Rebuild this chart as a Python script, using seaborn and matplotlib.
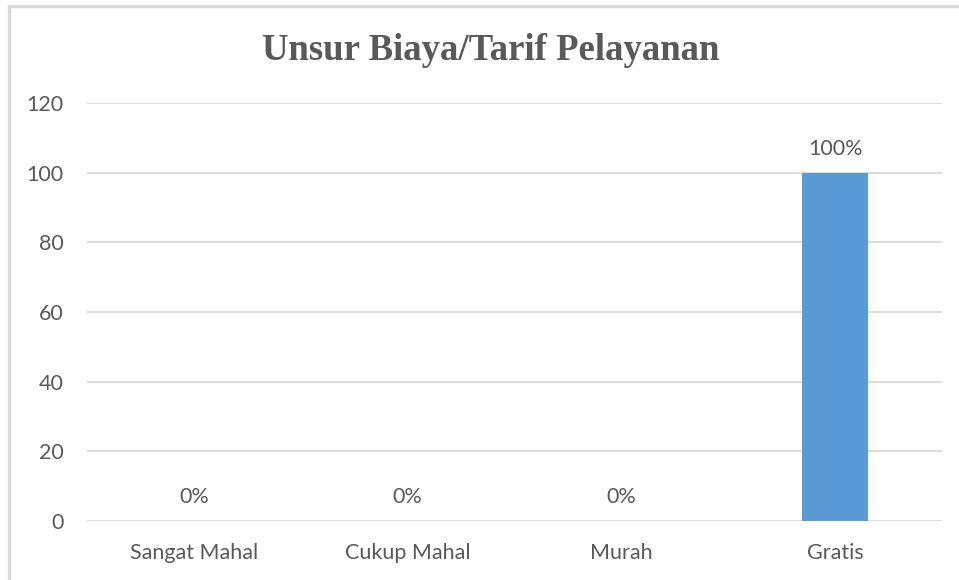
import matplotlib
matplotlib.use("Agg")
import matplotlib.pyplot as plt
import pandas as pd
import seaborn as sns
from matplotlib.lines import Line2D

# data
categories = ["Sangat Mahal", "Cukup Mahal", "Murah", "Gratis"]
values = [0, 0, 0, 100]
labels = ["0%", "0%", "0%", "100%"]
yticks = [0, 20, 40, 60, 80, 100, 120]

df = pd.DataFrame({"kategori": categories, "nilai": values})

sns.set_style("white")
plt.rcParams["font.family"] = ["Lato", "DejaVu Sans"]

fig = plt.figure(figsize=(9.59, 5.80), dpi=100)
ax = fig.add_axes([87 / 959, 1 - 521 / 580, 855 / 959, 418 / 580])

sns.barplot(data=df, x="kategori", y="nilai", color="#5B9BD5",
            width=0.31, saturation=1, linewidth=0, ax=ax)

ax.set_ylim(0, 120)
ax.set_xlim(-0.5, 3.5)
ax.set_yticks(yticks)
ax.grid(axis="y", color="#D9D9D9", linewidth=1.3)
ax.set_axisbelow(True)
for s in ax.spines.values():
    s.set_visible(False)
ax.tick_params(axis="both", length=0, labelsize=15.5, colors="#595959")
ax.tick_params(axis="y", pad=17)
ax.tick_params(axis="x", pad=16)
ax.set_xlabel("")
ax.set_ylabel("")

# data labels
for i, (v, lab) in enumerate(zip(values, labels)):
    ax.annotate(lab, (i, v), xytext=(0, 17.3), textcoords="offset points",
                ha="center", va="center", fontsize=15.5, color="#595959")

fig.text(491 / 959, 1 - 50 / 580, "Unsur Biaya/Tarif Pelayanan",
         ha="center", va="center", fontsize=26.5, fontweight="bold",
         color="#595959", family="Liberation Serif")

# screenshot frame (top and left edges)
fig.add_artist(Line2D([9 / 959, 1], [1 - 6 / 580, 1 - 6 / 580],
                      transform=fig.transFigure, color="#D9D9D9", lw=2.5))
fig.add_artist(Line2D([9 / 959, 9 / 959], [0, 1 - 6 / 580],
                      transform=fig.transFigure, color="#D9D9D9", lw=2.5))

fig.savefig("out.png", dpi=100, facecolor="white")
